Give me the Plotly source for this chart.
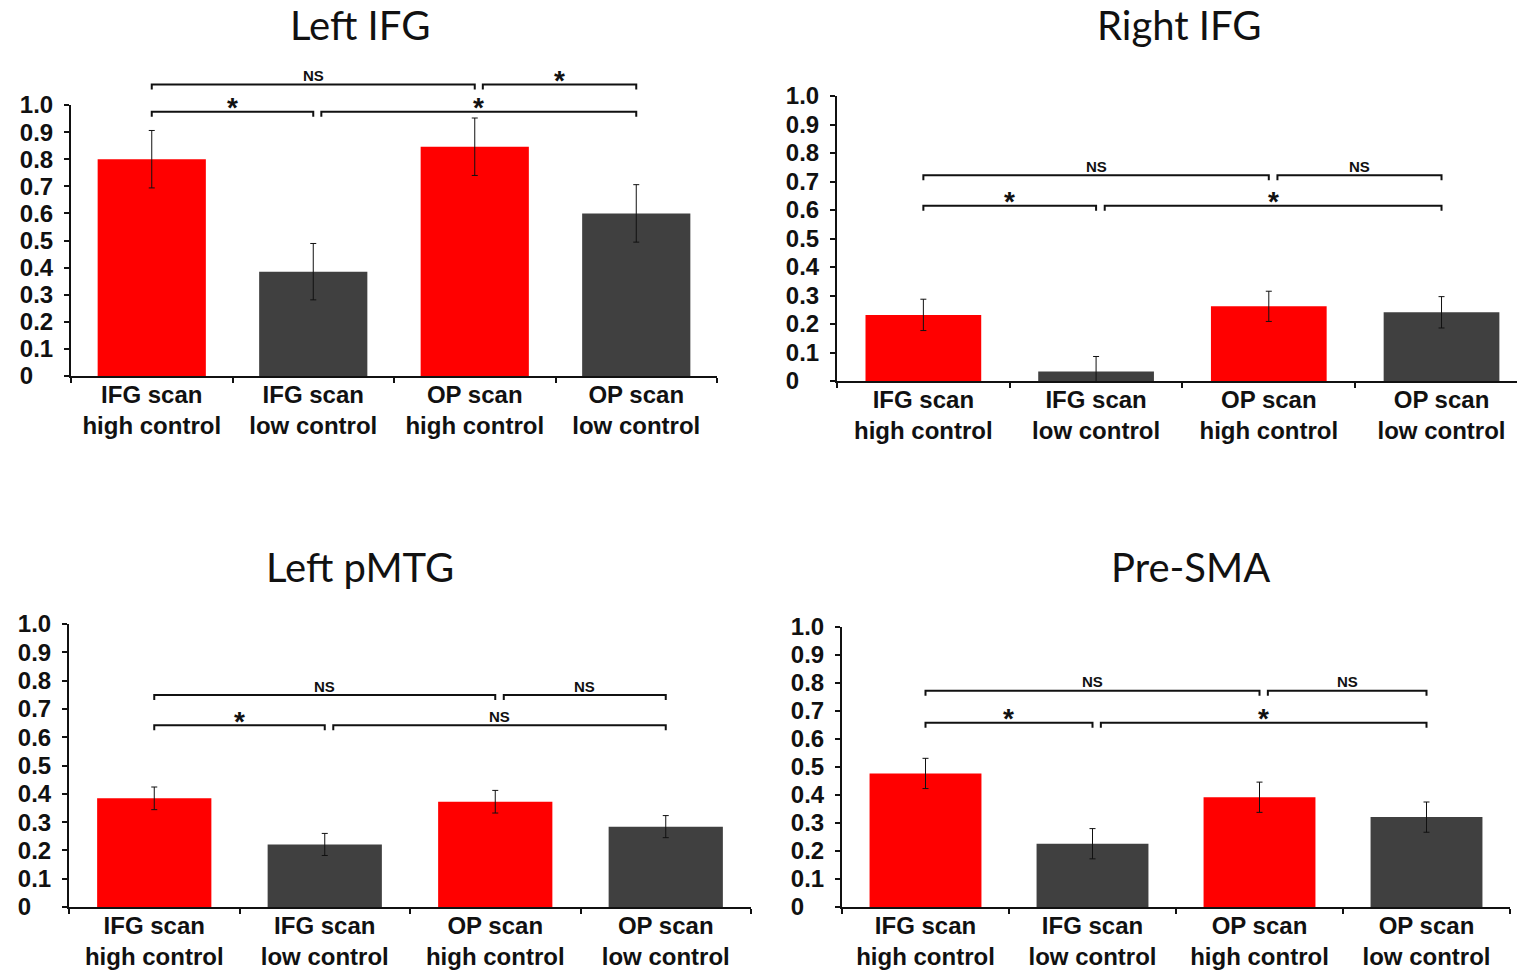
import plotly.graph_objects as go

# ---------------- data ----------------
categories = ["IFG scan<br>high control", "IFG scan<br>low control",
              "OP scan<br>high control", "OP scan<br>low control"]
bar_colors = ["#ff0000", "#404040", "#ff0000", "#404040"]

titles = ["Left IFG", "Right IFG", "Left pMTG", "Pre-SMA"]

left_ifg_vals = [0.80, 0.385, 0.846, 0.600]
left_ifg_err = [0.106, 0.104, 0.106, 0.106]

right_ifg_vals = [0.232, 0.033, 0.262, 0.241]
right_ifg_err = [0.055, 0.053, 0.053, 0.055]

left_pmtg_vals = [0.384, 0.221, 0.372, 0.284]
left_pmtg_err = [0.040, 0.039, 0.040, 0.039]

presma_vals = [0.477, 0.226, 0.392, 0.321]
presma_err = [0.054, 0.054, 0.054, 0.054]

ytick_vals = [0, 0.1, 0.2, 0.3, 0.4, 0.5, 0.6, 0.7, 0.8, 0.9, 1.0]
ytick_text = ["0\u2008\u2007", "0.1", "0.2", "0.3", "0.4", "0.5", "0.6", "0.7", "0.8", "0.9", "1.0"]

# significance brackets: (start category index, end category index, level, label)
left_ifg_sig = [(0, 1, 0.975, "*"), (1.05, 3, 0.975, "*"),
                (0, 2, 1.076, "NS"), (2.05, 3, 1.076, "*")]
right_ifg_sig = [(0, 1, 0.615, "*"), (1.05, 3, 0.615, "*"),
                 (0, 2, 0.722, "NS"), (2.05, 3, 0.722, "NS")]
left_pmtg_sig = [(0, 1, 0.642, "*"), (1.05, 3, 0.642, "NS"),
                 (0, 2, 0.749, "NS"), (2.05, 3, 0.749, "NS")]
presma_sig = [(0, 1, 0.658, "*"), (1.05, 3, 0.658, "*"),
              (0, 2, 0.772, "NS"), (2.05, 3, 0.772, "NS")]

values = [left_ifg_vals, right_ifg_vals, left_pmtg_vals, presma_vals]
errors = [left_ifg_err, right_ifg_err, left_pmtg_err, presma_err]
sigs = [left_ifg_sig, right_ifg_sig, left_pmtg_sig, presma_sig]

# ---------------- layout geometry (pixels) ----------------
W, H = 1517, 977
# (x of axis start, x of axis end, y pixel of value 0, y pixel of value 1.0, x range end)
frames = [
    (71, 717, 376, 105, 3.5),
    (837, 1517, 381, 96, 3.437),
    (69, 751, 907, 624, 3.5),
    (842, 1510, 907, 627, 3.5),
]
title_pos = [(360, 25), (1179, 25), (360, 567), (1190, 567)]

fig = go.Figure()
shapes = []
annotations = []
FONT = "Liberation Sans, Arial"

for i in range(4):
    xa = "x" if i == 0 else f"x{i+1}"
    ya = "y" if i == 0 else f"y{i+1}"
    xl, xr, y0p, y1p, xmax = frames[i]
    fig.add_trace(go.Bar(
        x=categories, y=values[i],
        marker=dict(color=bar_colors, line=dict(width=0)),
        error_y=dict(type="data", array=errors[i], visible=True,
                     color="#111111", thickness=1, width=3),
        xaxis=xa, yaxis=ya, showlegend=False, hoverinfo="skip",
    ))
    ax_key = "xaxis" if i == 0 else f"xaxis{i+1}"
    ay_key = "yaxis" if i == 0 else f"yaxis{i+1}"
    fig.layout[ax_key] = dict(
        domain=[xl / W, xr / W], anchor=ya, type="category", automargin=False,
        range=[-0.5, xmax], showline=True, linecolor="#111111", linewidth=2,
        ticks="outside", tickson="boundaries", ticklen=5, tickwidth=1.5,
        tickcolor="#111111", showgrid=False, zeroline=False, ticklabelstandoff=-4,
        tickfont=dict(family=FONT, size=24, color="#111111", weight="bold"),
        fixedrange=True,
    )
    fig.layout[ay_key] = dict(
        domain=[1 - y0p / H, 1 - y1p / H], anchor=xa, automargin=False,
        range=[0, 1.0], showline=True, linecolor="#111111", linewidth=2,
        ticks="outside", ticklen=5, tickwidth=1.5, tickcolor="#111111",
        tickvals=ytick_vals, ticktext=ytick_text, ticklabelstandoff=6,
        showgrid=False, zeroline=False,
        tickfont=dict(family=FONT, size=24, color="#111111", weight="bold"),
        fixedrange=True,
    )
    # bracket end tick length as a fraction of the plot height (~5 px)
    drop = 5.0 / (y0p - y1p)
    for (s, e, lvl, lab) in sigs[i]:
        # y range is [0, 1], so the y-domain fraction equals the data value
        path = f"M {s},{lvl - drop} L {s},{lvl} L {e},{lvl} L {e},{lvl - drop}"
        shapes.append(dict(type="path", xref=xa, yref=f"{ya} domain", path=path,
                           line=dict(color="#111111", width=2)))
        is_star = lab == "*"
        annotations.append(dict(
            x=(s + e) / 2, y=lvl, xref=xa, yref=f"{ya} domain", text=f"<b>{lab}</b>",
            showarrow=False, xanchor="center", yanchor="middle",
            yshift=4 if is_star else 9,
            font=dict(family=FONT, size=28 if is_star else 15, color="#111111"),
        ))
    tx, ty = title_pos[i]
    annotations.append(dict(
        x=tx / W, y=1 - ty / H, xref="paper", yref="paper", text=titles[i],
        showarrow=False, xanchor="center", yanchor="middle",
        font=dict(family="Lato, Open Sans", size=40, color="#111111"),
    ))

fig.update_layout(
    width=W, height=H, autosize=False,
    margin=dict(l=0, r=0, t=0, b=0, pad=0, autoexpand=False),
    paper_bgcolor="white", plot_bgcolor="white",
    bargap=0.33, shapes=shapes, annotations=annotations,
)

fig.write_html("out.html", config={"displayModeBar": False},
               post_script="document.body.style.margin='0px';")
